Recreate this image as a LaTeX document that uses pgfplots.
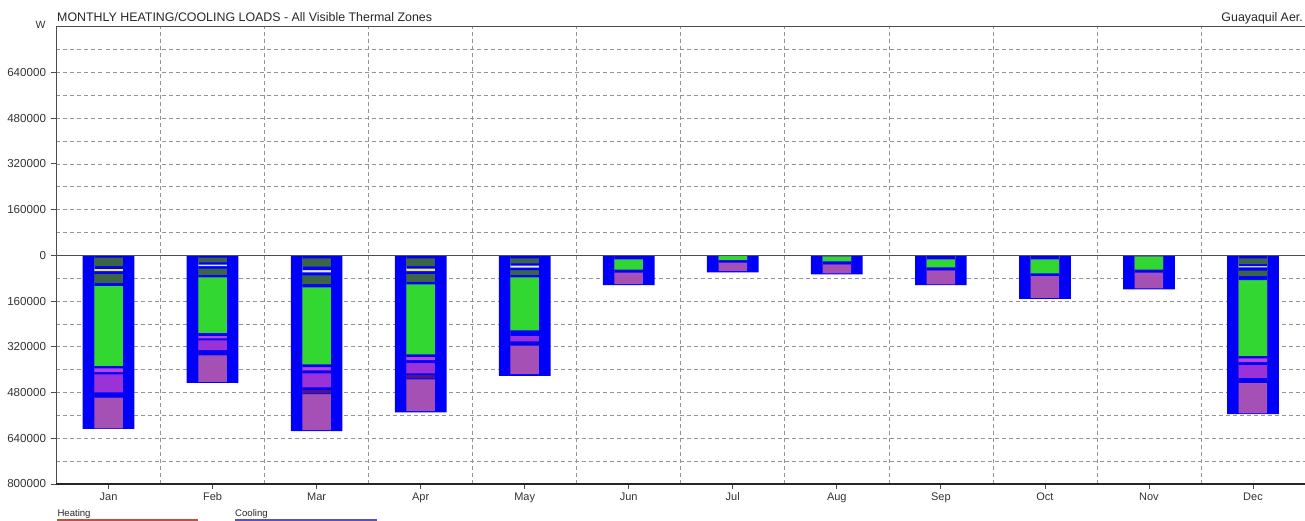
\documentclass[border=0pt]{standalone}
\usepackage{pgfplots}
\usepackage{pgfplotstable}
\pgfplotsset{compat=1.18}
\usepackage{fontspec}
\setmainfont{Liberation Sans}

\definecolor{outerblue}{RGB}{0,0,250}
\definecolor{magc}{RGB}{165,80,180}
\definecolor{dpurp}{RGB}{85,20,130}
\definecolor{purp}{RGB}{155,50,215}
\definecolor{lpurp}{RGB}{180,70,220}
\definecolor{grn}{RGB}{50,215,50}
\definecolor{dkgrn}{RGB}{60,100,70}
\definecolor{yel}{RGB}{235,235,40}
\definecolor{wht}{RGB}{225,232,255}
\definecolor{heatc}{RGB}{190,80,70}
\definecolor{coolc}{RGB}{90,80,190}

% cumulative depths (W) of the segment boundaries, month by month
\pgfplotstableread{
m outer magE magS dpE dpS purE purS lpE lpS grE grS dkBE dkBS yelE whtE ltS dkAE dkAS
0 -607250 -605500 -497000 -497000 -497000 -479500 -416500 -408450 -395500 -386400 -106400 -96950 -64750 -55250 -47450 -47450 -37450 -8400
1 -445900 -442400 -348950 -348950 -348950 -331450 -297500 -290500 -281400 -270900 -76650 -67900 -46900 -32200 -37450 -32200 -24500 -8400
2 -614950 -611450 -485450 -483000 -471450 -462000 -413000 -402500 -390950 -381500 -112000 -100450 -70000 -51450 -59500 -51450 -39900 -10500
3 -549500 -544950 -434000 -430500 -418950 -413000 -375900 -366450 -354900 -346500 -101500 -92400 -64400 -54900 -46400 -46400 -37450 -10500
4 -421400 -415450 -315000 -315000 -315000 -301000 -281400 -281400 -281400 -262500 -77000 -67900 -51450 -36400 -43400 -36400 -28000 -10500
5 -103950 -100450 -59500 -59500 -59500 -59500 -59500 -59500 -59500 -50400 -12950 -12950 -12950 -12950 -12950 -12950 -12950 -12950
6 -59500 -54950 -24500 -24500 -24500 -24500 -24500 -24500 -24500 -16450 -1500 -1500 -1500 -1500 -1500 -1500 -1500 -1500
7 -66500 -63000 -30450 -30450 -30450 -30450 -30450 -30450 -30450 -21000 -2450 -2450 -2450 -2450 -2450 -2450 -2450 -2450
8 -103950 -101500 -51450 -51450 -51450 -51450 -51450 -51450 -51450 -42000 -12950 -12950 -12950 -12950 -12950 -12950 -12950 -12950
9 -151900 -148400 -71400 -71400 -71400 -71400 -71400 -71400 -71400 -63000 -12950 -12950 -12950 -12950 -12950 -12950 -12950 -12950
10 -119000 -115500 -59500 -59500 -59500 -59500 -59500 -59500 -59500 -50400 -2450 -2450 -2450 -2450 -2450 -2450 -2450 -2450
11 -555450 -553000 -445900 -445900 -445900 -428400 -382900 -373450 -360500 -351400 -86450 -72450 -53900 -37450 -42000 -37450 -30450 -10500
}\loads

\begin{document}
\begin{tikzpicture}
\useasboundingbox (-56.5pt,-37pt) rectangle (1248.5pt,484pt);
\begin{axis}[
  at={(0pt,0pt)}, anchor=south west,
  scale only axis, width=1248.5pt, height=457.3pt,
  xmin=-0.5, xmax=11.5, ymin=-800000, ymax=800000,
  axis line style={draw=none},
  xtick={0,1,2,3,4,5,6,7,8,9,10,11},
  xticklabels={Jan,Feb,Mar,Apr,May,Jun,Jul,Aug,Sep,Oct,Nov,Dec},
  minor xtick={0.5,1.5,2.5,3.5,4.5,5.5,6.5,7.5,8.5,9.5,10.5},
  xminorgrids,
  ytick={-800000,-640000,-480000,-320000,-160000,0,160000,320000,480000,640000},
  yticklabels={800000,640000,480000,320000,160000,0,160000,320000,480000,640000},
  minor ytick={-720000,-560000,-400000,-240000,-80000,80000,240000,400000,560000,720000},
  ymajorgrids, yminorgrids,
  scaled y ticks=false,
  grid style={dash pattern=on 4pt off 3pt, black!42, line width=0.65pt},
  minor grid style={dash pattern=on 4pt off 3pt, black!42, line width=0.65pt},
  tick align=outside, major tick length=5pt, minor tick length=0pt,
  xtick pos=bottom, ytick pos=left,
  tick style={black!70, line width=0.8pt},
  yticklabel style={font=\fontsize{11.6}{13}\selectfont, text=black!80, xshift=-2pt},
  xticklabel style={font=\fontsize{11}{13}\selectfont, text=black!80},
  clip=false,
]
\addplot[ybar, bar width=0.497, bar shift=0pt, fill=outerblue, draw=none] table[x=m,y=outer] {\loads};
\addplot[ybar, bar width=0.274, bar shift=0pt, fill=magc, draw=none] table[x=m,y=magE] {\loads};
\addplot[ybar, bar width=0.274, bar shift=0pt, fill=outerblue, draw=none] table[x=m,y=magS] {\loads};
\addplot[ybar, bar width=0.274, bar shift=0pt, fill=dpurp, draw=none] table[x=m,y=dpE] {\loads};
\addplot[ybar, bar width=0.274, bar shift=0pt, fill=outerblue, draw=none] table[x=m,y=dpS] {\loads};
\addplot[ybar, bar width=0.274, bar shift=0pt, fill=purp, draw=none] table[x=m,y=purE] {\loads};
\addplot[ybar, bar width=0.274, bar shift=0pt, fill=outerblue, draw=none] table[x=m,y=purS] {\loads};
\addplot[ybar, bar width=0.274, bar shift=0pt, fill=lpurp, draw=none] table[x=m,y=lpE] {\loads};
\addplot[ybar, bar width=0.274, bar shift=0pt, fill=outerblue, draw=none] table[x=m,y=lpS] {\loads};
\addplot[ybar, bar width=0.274, bar shift=0pt, fill=grn, draw=none] table[x=m,y=grE] {\loads};
\addplot[ybar, bar width=0.274, bar shift=0pt, fill=outerblue, draw=none] table[x=m,y=grS] {\loads};
\addplot[ybar, bar width=0.274, bar shift=0pt, fill=dkgrn, draw=none] table[x=m,y=dkBE] {\loads};
\addplot[ybar, bar width=0.274, bar shift=0pt, fill=outerblue, draw=none] table[x=m,y=dkBS] {\loads};
\addplot[ybar, bar width=0.274, bar shift=0pt, fill=yel, draw=none] table[x=m,y=yelE] {\loads};
\addplot[ybar, bar width=0.274, bar shift=0pt, fill=wht, draw=none] table[x=m,y=whtE] {\loads};
\addplot[ybar, bar width=0.274, bar shift=0pt, fill=outerblue, draw=none] table[x=m,y=ltS] {\loads};
\addplot[ybar, bar width=0.274, bar shift=0pt, fill=dkgrn, draw=none] table[x=m,y=dkAE] {\loads};
\addplot[ybar, bar width=0.274, bar shift=0pt, fill=outerblue, draw=none] table[x=m,y=dkAS] {\loads};
\draw[black!70, line width=1.2pt] (axis cs:-0.5,800000) -- (axis cs:11.5,800000);
\draw[black!70, line width=1.2pt] (axis cs:-0.5,-800000) -- (axis cs:-0.5,800000);
\draw[black!85, line width=1.2pt] (axis cs:-0.5,-800000) -- (axis cs:11.5,-800000);
\draw[black!70, line width=1.2pt] (axis cs:-0.5,0) -- (axis cs:11.5,0);
\end{axis}
\node[anchor=base west, inner sep=0pt, font=\fontsize{12.4}{14}\selectfont, text=black!85] at (0.5pt,462.7pt) {MONTHLY HEATING/COOLING LOADS - All Visible Thermal Zones};
\node[anchor=base east, inner sep=0pt, font=\fontsize{12.4}{14}\selectfont, text=black!85] at (1246.5pt,462.7pt) {Guayaquil Aer.};
\node[anchor=base, inner sep=0pt, font=\fontsize{10.5}{12}\selectfont, text=black!80] at (-16pt,455.5pt) {W};
\node[anchor=base west, inner sep=0pt, font=\fontsize{9.6}{11}\selectfont, text=black!85] at (0.8pt,-32.5pt) {Heating};
\node[anchor=base west, inner sep=0pt, font=\fontsize{9.6}{11}\selectfont, text=black!85] at (178.5pt,-32.5pt) {Cooling};
\draw[heatc, line width=2pt] (0.5pt,-36pt) -- (141.5pt,-36pt);
\draw[coolc, line width=2pt] (178.5pt,-36pt) -- (320.5pt,-36pt);
\end{tikzpicture}
\end{document}
